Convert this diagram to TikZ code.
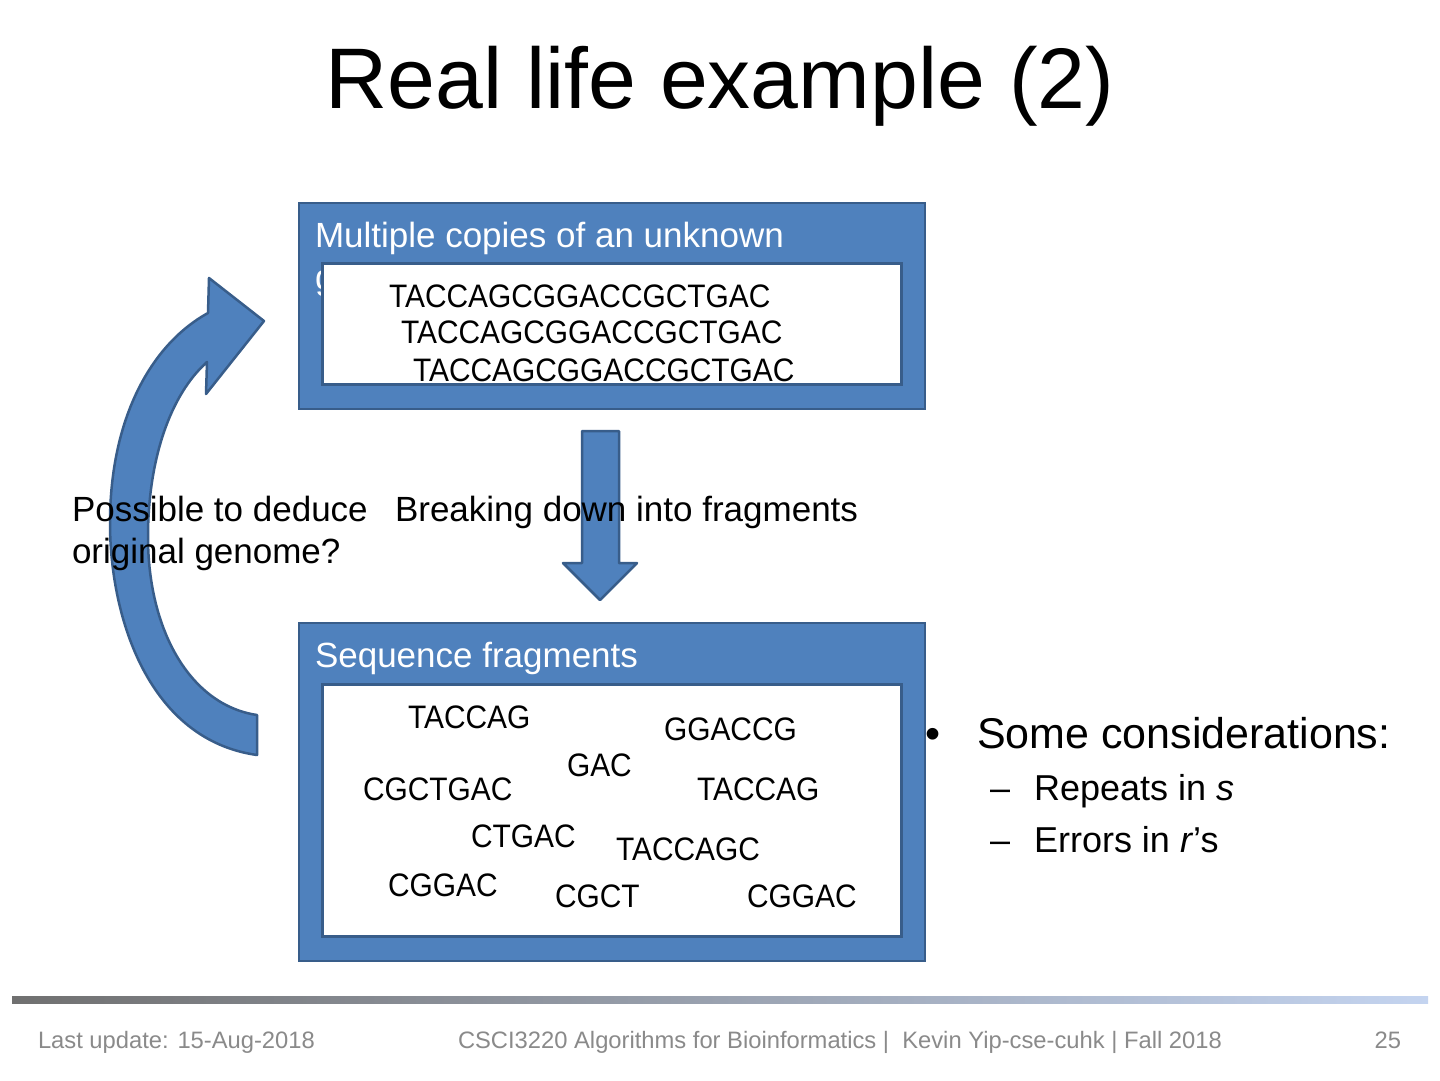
\documentclass[tikz,border=0pt]{standalone}
\usepackage{fontspec}
\setmainfont{Liberation Sans}
\newfontfamily\seqfont[FakeStretch=0.92]{Liberation Sans}
\definecolor{boxfill}{HTML}{4F81BD}
\definecolor{boxline}{HTML}{385D8A}
\definecolor{foot}{HTML}{8A8A8A}
\definecolor{barleft}{HTML}{707070}
\definecolor{barright}{HTML}{C4D4F0}
\begin{document}
\begin{tikzpicture}[x=1pt,y=-1pt,
  txt/.style={inner sep=0pt, outer sep=0pt, anchor=base west},
  seq/.style={txt, font=\seqfont\fontsize{32.5}{38}\selectfont},
  body/.style={txt, font=\fontsize{35}{42}\selectfont},
  sub/.style={txt, font=\fontsize{36}{43}\selectfont},
  foottxt/.style={txt, text=foot, font=\fontsize{23.75}{28}\selectfont},
  outerbox/.style={draw=boxline, fill=boxfill, line width=2pt, inner sep=0pt, outer sep=0pt},
  innerbox/.style={draw=boxline, fill=white, line width=3pt, inner sep=0pt, outer sep=0pt},
  blockarrow/.style={fill=boxfill, draw=boxline, line width=2.5pt, line join=round}]
\useasboundingbox (0,0) rectangle (1440,1080);
\fill[white] (0,0) rectangle (1440,1080);

% title
\node[inner sep=0pt, anchor=base, font=\fontsize{86}{100}\selectfont] (title) at (720,108) {Real life example (2)};

% curved arrow
\path[blockarrow] (257,715)
  .. controls (190,705) and (148,630) .. (148,537)
  .. controls (148,460) and (170,395) .. (207,362)
  -- (206,394) -- (264,321) -- (209,278) -- (208,313)
  .. controls (150,345) and (110,420) .. (110,523)
  .. controls (110,620) and (150,740) .. (257,755) -- cycle;

% down arrow
\path[blockarrow] (582,431) -- (619,431) -- (619,563) -- (637,563) -- (600,600)
  -- (563,563) -- (582,563) -- cycle;

% top box
\node[outerbox, minimum width=626pt, minimum height=206pt] (topbox) at (612,306) {};
\node[txt, text=white, font=\fontsize{35}{42}\selectfont] (toplabel) at (315,247) {Multiple copies of an unknown};
\node[txt, text=white, font=\fontsize{35}{42}\selectfont] (toplabel2) at (315,289) {genome};
\node[innerbox, minimum width=579pt, minimum height=121pt] (topin) at (611.5,323.5) {};
\node[seq] (s1) at (389,307) {TACCAGCGGACCGCTGAC};
\node[seq] (s2) at (401,343) {TACCAGCGGACCGCTGAC};
\node[seq] (s3) at (413,381) {TACCAGCGGACCGCTGAC};

% bottom box
\node[outerbox, minimum width=626pt, minimum height=338pt] (botbox) at (612,792) {};
\node[txt, text=white, font=\fontsize{35}{42}\selectfont] (botlabel) at (315,667) {Sequence fragments};
\node[innerbox, minimum width=579pt, minimum height=252pt] (botin) at (611.5,810) {};
\node[seq] (f1) at (408,728) {TACCAG};
\node[seq] (f2) at (664,740) {GGACCG};
\node[seq] (f3) at (567,776) {GAC};
\node[seq] (f4) at (363,800) {CGCTGAC};
\node[seq] (f5) at (697,800) {TACCAG};
\node[seq] (f6) at (471,847) {CTGAC};
\node[seq] (f7) at (616,860) {TACCAGC};
\node[seq] (f8) at (388,896) {CGGAC};
\node[seq] (f9) at (555,907) {CGCT};
\node[seq] (f10) at (747,907) {CGGAC};

% side labels
\node[body] (ded1) at (72,521) {Possible to deduce};
\node[body] (ded2) at (72,563) {original genome?};
\node[body] (brk) at (395,521) {Breaking down into fragments};

% considerations
\node[txt, font=\fontsize{43}{50}\selectfont] (bul) at (925,748) {•};
\node[txt, font=\fontsize{43}{50}\selectfont] (cons) at (977,748) {Some considerations:};
\node[sub] (dash1) at (990,800) {–};
\node[sub] (rep) at (1034,800) {Repeats in \textit{s}};
\node[sub] (dash2) at (990,852) {–};
\node[sub] (err) at (1034,852) {Errors in \textit{r}’s};

% footer
\shade[left color=barleft, right color=barright] (12,996) rectangle (1428,1003);
\node[foottxt] (fl) at (38,1048) {Last update: 15-Aug-2018};
\node[foottxt] (fc) at (458,1048) {CSCI3220 Algorithms for Bioinformatics |\ \ Kevin Yip-cse-cuhk | Fall 2018};
\node[foottxt, anchor=base east] (fr) at (1401,1048) {25};
\end{tikzpicture}
\end{document}
